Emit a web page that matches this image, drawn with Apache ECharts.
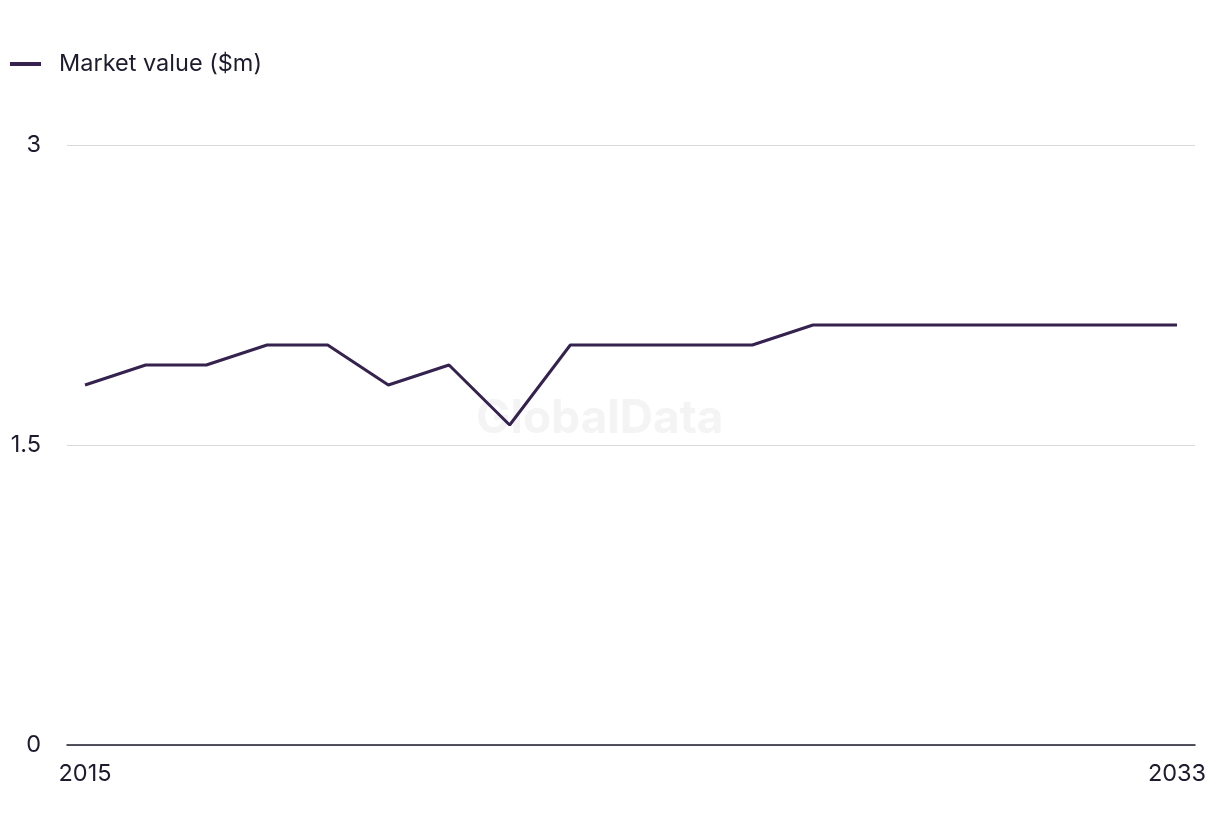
<!DOCTYPE html>
<html>
<head>
<meta charset="utf-8">
<script src="https://cdn.jsdelivr.net/npm/echarts@6/dist/echarts.min.js"></script>
<style>html,body{margin:0;padding:0;background:#fff}#c{width:1220px;height:836px}</style>
</head>
<body>
<div id="c"></div>
<script>
const years = [2015,2016,2017,2018,2019,2020,2021,2022,2023,2024,2025,2026,2027,2028,2029,2030,2031,2032,2033];
const marketValue = [1.8,1.9,1.9,2.0,2.0,1.8,1.9,1.6,2.0,2.0,2.0,2.0,2.1,2.1,2.1,2.1,2.1,2.1,2.1];
const xLabels = [2015, 2033];
const yTicks = [0, 1.5, 3];
const seriesName = 'Market value ($m)';

const font = 'Inter, "Liberation Sans", sans-serif';
const chart = echarts.init(document.getElementById('c'));
chart.setOption({
  animation: false,
  legend: {
    left: 5, top: 47,
    itemWidth: 44, itemHeight: 4, itemGap: 20,
    icon: 'path://M0,0h31v4h-31z M44,2L44,2',
    symbolKeepAspect: true,
    itemStyle: { borderWidth: 0 },
    textStyle: { fontSize: 23.5, color: '#1c1c2e', fontFamily: font },
    data: [seriesName]
  },
  graphic: [{
    type: 'text', left: 476, top: 396, silent: true, z: -1,
    style: { text: 'GlobalData', fontSize: 46, fontWeight: 'bold', fill: '#f4f4f4', fontFamily: font }
  }],
  grid: { left: 67, right: 25, top: 145, bottom: 91, containLabel: false },
  xAxis: {
    type: 'value',
    min: 2015 - 0.297, max: 2033 + 0.297,
    axisLine: { show: true, onZero: false, lineStyle: { color: '#1c1c2e', width: 1.5 } },
    axisTick: { show: false },
    splitLine: { show: false },
    axisLabel: {
      customValues: xLabels, showMinLabel: true, showMaxLabel: true,
      fontSize: 23.5, color: '#1c1c2e', fontFamily: font, margin: 17,
      formatter: v => String(v)
    }
  },
  yAxis: {
    type: 'value', min: 0, max: 3, interval: 1.5,
    axisLine: { show: false }, axisTick: { show: false },
    splitLine: { lineStyle: { color: '#d9d9d9', width: 1.2 } },
    axisLabel: { fontSize: 23.5, color: '#1c1c2e', fontFamily: font, margin: 26,
      customValues: yTicks, formatter: v => String(v) }
  },
  series: [{
    name: seriesName, type: 'line', showSymbol: false, symbol: 'none',
    data: years.map((y, i) => [y, marketValue[i]]),
    lineStyle: { color: '#35224f', width: 3 },
    itemStyle: { color: '#35224f' }
  }]
});
</script>
</body>
</html>
